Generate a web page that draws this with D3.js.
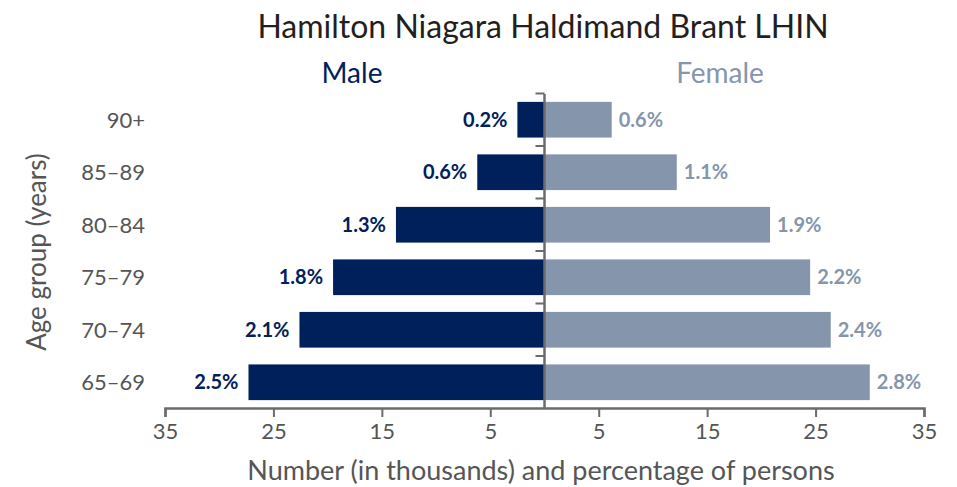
<!DOCTYPE html>
<html>
<head>
<meta charset="utf-8">
<script src="https://cdn.jsdelivr.net/npm/d3@7"></script>
<style>
  body { margin: 0; background: #fff; }
  svg { font-family: Lato, "Open Sans", sans-serif; }
</style>
</head>
<body>
<div id="chart"></div>
<script>
// Data (top to bottom)
const ageGroups = ["90+", "85\u201389", "80\u201384", "75\u201379", "70\u201374", "65\u201369"];
const maleThousands = [2.5, 6.2, 13.7, 19.5, 22.6, 27.3];
const femaleThousands = [6.2, 12.2, 20.8, 24.5, 26.4, 30.0];
const malePct = ["0.2%", "0.6%", "1.3%", "1.8%", "2.1%", "2.5%"];
const femalePct = ["0.6%", "1.1%", "1.9%", "2.2%", "2.4%", "2.8%"];
const xTicks = [-35, -25, -15, -5, 5, 15, 25, 35];

const W = 957, H = 487;
const MALE = "#00205b", FEMALE = "#8595ac", AXIS = "#6b6b6b", TEXT = "#555";

const svg = d3.select("#chart").append("svg")
  .attr("width", W).attr("height", H);

const x = d3.scaleLinear().domain([-35, 35]).range([165, 924]);
const y = d3.scaleBand().domain(ageGroups).range([94, 408])
  .paddingInner(0.32).paddingOuter(0.15);

// Title and series labels
svg.append("text").attr("x", 543).attr("y", 38)
  .attr("text-anchor", "middle").attr("font-size", 32).attr("fill", "#231f20")
  .text("Hamilton Niagara Haldimand Brant LHIN");
svg.append("text").attr("x", 352).attr("y", 83)
  .attr("text-anchor", "middle").attr("font-size", 28).attr("fill", MALE)
  .text("Male");
svg.append("text").attr("x", 720).attr("y", 83)
  .attr("text-anchor", "middle").attr("font-size", 28).attr("fill", FEMALE)
  .text("Female");

// Bars
const rows = ageGroups.map((g, i) => ({
  g, m: maleThousands[i], f: femaleThousands[i], mp: malePct[i], fp: femalePct[i]
}));

svg.selectAll(".male").data(rows).join("rect")
  .attr("class", "male")
  .attr("x", d => x(-d.m)).attr("y", d => y(d.g))
  .attr("width", d => x(0) - x(-d.m)).attr("height", y.bandwidth())
  .attr("fill", MALE);

svg.selectAll(".female").data(rows).join("rect")
  .attr("class", "female")
  .attr("x", x(0)).attr("y", d => y(d.g))
  .attr("width", d => x(d.f) - x(0)).attr("height", y.bandwidth())
  .attr("fill", FEMALE);

// Percentage labels
svg.selectAll(".mlab").data(rows).join("text")
  .attr("class", "mlab")
  .attr("x", d => x(-d.m) - 10).attr("y", d => y(d.g) + y.bandwidth() / 2)
  .attr("dy", "0.36em").attr("text-anchor", "end")
  .attr("font-size", 20).attr("font-weight", "bold").attr("fill", MALE)
  .text(d => d.mp);

svg.selectAll(".flab").data(rows).join("text")
  .attr("class", "flab")
  .attr("x", d => x(d.f) + 7).attr("y", d => y(d.g) + y.bandwidth() / 2)
  .attr("dy", "0.36em").attr("text-anchor", "start")
  .attr("font-size", 20).attr("font-weight", "bold").attr("fill", FEMALE)
  .text(d => d.fp);

// Category labels
svg.selectAll(".cat").data(rows).join("text")
  .attr("class", "cat")
  .attr("x", 145).attr("y", d => y(d.g) + y.bandwidth() / 2)
  .attr("dy", "0.36em").attr("text-anchor", "end")
  .attr("font-size", 22).attr("fill", TEXT)
  .text(d => d.g);

// Center axis with ticks at band boundaries
const gap = y.step() * y.paddingInner() / 2;
svg.append("line")
  .attr("x1", x(0)).attr("x2", x(0))
  .attr("y1", y.range()[0]).attr("y2", y.range()[1])
  .attr("stroke", AXIS).attr("stroke-width", 2.5);
svg.selectAll(".ytick").data(ageGroups).join("line")
  .attr("class", "ytick")
  .attr("x1", x(0) - 9).attr("x2", x(0))
  .attr("y1", d => y(d) - gap).attr("y2", d => y(d) - gap)
  .attr("stroke", AXIS).attr("stroke-width", 2);

// X axis
const xAxis = d3.axisBottom(x).tickValues(xTicks)
  .tickFormat(d => Math.abs(d)).tickSizeOuter(0).tickSize(9).tickPadding(6);
const gx = svg.append("g").attr("transform", "translate(0,408)").call(xAxis);
gx.select(".domain").attr("stroke", AXIS).attr("stroke-width", 2.5);
gx.selectAll(".tick line").attr("stroke", AXIS).attr("stroke-width", 2);
gx.selectAll(".tick text").attr("font-size", 22).attr("fill", TEXT)
  .attr("font-family", "Lato, sans-serif");

// Axis titles
svg.append("text").attr("x", 541).attr("y", 480)
  .attr("text-anchor", "middle").attr("font-size", 27).attr("fill", TEXT)
  .text("Number (in thousands) and percentage of persons");
svg.append("text")
  .attr("transform", "translate(46,252) rotate(-90)")
  .attr("text-anchor", "middle").attr("font-size", 26).attr("fill", TEXT)
  .text("Age group (years)");
</script>
</body>
</html>
